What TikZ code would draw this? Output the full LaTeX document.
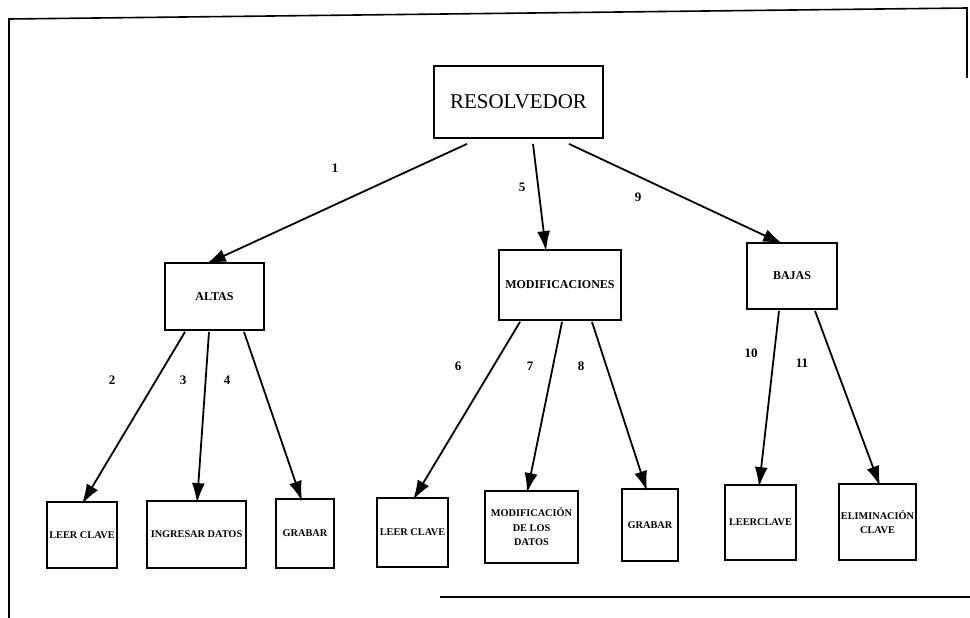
\documentclass[tikz,border=0pt]{standalone}
\usepackage{fontspec}
\setmainfont{Liberation Serif}
\usetikzlibrary{arrows.meta}
\begin{document}
\begin{tikzpicture}[x=1pt,y=-1pt,
  box/.style={draw,line width=1.8pt,inner sep=0pt,align=center},
  num/.style={font=\fontsize{13}{15}\selectfont\bfseries},
  mid/.style={font=\fontsize{12}{14}\selectfont\bfseries},
  low/.style={font=\fontsize{10.3}{14.5}\selectfont\bfseries},
  arr/.style={line width=1.8pt,-{Latex[length=20pt,width=13pt]}}]
\useasboundingbox (0,0) rectangle (970,618);
% frame
\draw[line width=1.6pt] (9,618) -- (9,19) -- (967,8) -- (967,78);
\draw[line width=1.6pt] (440,597) -- (970,597);
% nodes
\node[box,minimum width=169pt,minimum height=72pt,font=\fontsize{21}{25}\selectfont] (res) at (518.5,102) {RESOLVEDOR};
\node[box,mid,minimum width=99pt,minimum height=67pt] (altas) at (214.5,296.5) {ALTAS};
\node[box,mid,minimum width=122pt,minimum height=70pt] (modif) at (560,285) {MODIFICACIONES};
\node[box,mid,minimum width=90pt,minimum height=66pt] (bajas) at (792,276) {BAJAS};
\node[box,low,minimum width=70pt,minimum height=66pt] (leer1) at (82,535) {LEER CLAVE};
\node[box,low,minimum width=99pt,minimum height=67pt] (ingr) at (196.5,534.5) {INGRESAR DATOS};
\node[box,low,minimum width=58pt,minimum height=69pt] (grab1) at (305,533.5) {GRABAR};
\node[box,low,minimum width=71pt,minimum height=69pt] (leer2) at (412.5,532.5) {LEER CLAVE};
\node[box,low,minimum width=93pt,minimum height=72pt] (moddat) at (531.5,527) {MODIFICACIÓN\\DE LOS\\DATOS};
\node[box,low,minimum width=56pt,minimum height=72pt] (grab2) at (650,525) {GRABAR};
\node[box,low,minimum width=71pt,minimum height=75pt] (leer3) at (760.5,522.5) {LEERCLAVE};
\node[box,low,minimum width=77pt,minimum height=76pt] (elim) at (877.5,522) {ELIMINACIÓN\\CLAVE};
% connectors
\draw[arr] ([xshift=-51.5pt,yshift=-5pt]res.south) -- ([xshift=-8.5pt,yshift=-2pt]altas.north);
\draw[arr] ([xshift=14.5pt,yshift=-5pt]res.south) -- ([xshift=-14pt,yshift=-2pt]modif.north);
\draw[arr] ([xshift=50.5pt,yshift=-5pt]res.south) -- ([xshift=-9pt,yshift=-2pt]bajas.north);
\draw[arr] ([xshift=-29.5pt,yshift=-1pt]altas.south) -- ([xshift=0pt,yshift=-3pt]leer1.north);
\draw[arr] ([xshift=-5.5pt,yshift=-1pt]altas.south) -- ([xshift=0.5pt,yshift=-3pt]ingr.north);
\draw[arr] ([xshift=29.5pt,yshift=-1pt]altas.south) -- ([xshift=-3pt,yshift=-3pt]grab1.north);
\draw[arr] ([xshift=-40pt,yshift=-1pt]modif.south) -- ([xshift=0.5pt,yshift=-3pt]leer2.north);
\draw[arr] ([xshift=2pt,yshift=-1pt]modif.south) -- ([xshift=-4.5pt,yshift=-3pt]moddat.north);
\draw[arr] ([xshift=32pt,yshift=-1pt]modif.south) -- ([xshift=-3pt,yshift=-3pt]grab2.north);
\draw[arr] ([xshift=-13pt,yshift=-1pt]bajas.south) -- ([xshift=-1.5pt,yshift=-3pt]leer3.north);
\draw[arr] ([xshift=23pt,yshift=-1pt]bajas.south) -- ([xshift=2.5pt,yshift=-3pt]elim.north);
% labels
\node[num] (n1) at (335,168) {1};
\node[num] (n5) at (522,187) {5};
\node[num] (n9) at (638,197) {9};
\node[num] (n2) at (112,380) {2};
\node[num] (n3) at (183,380) {3};
\node[num] (n4) at (227,380) {4};
\node[num] (n6) at (458,366) {6};
\node[num] (n7) at (530,366) {7};
\node[num] (n8) at (581,366) {8};
\node[num] (n10) at (751,353) {10};
\node[num] (n11) at (802,363) {11};
\end{tikzpicture}
\end{document}
